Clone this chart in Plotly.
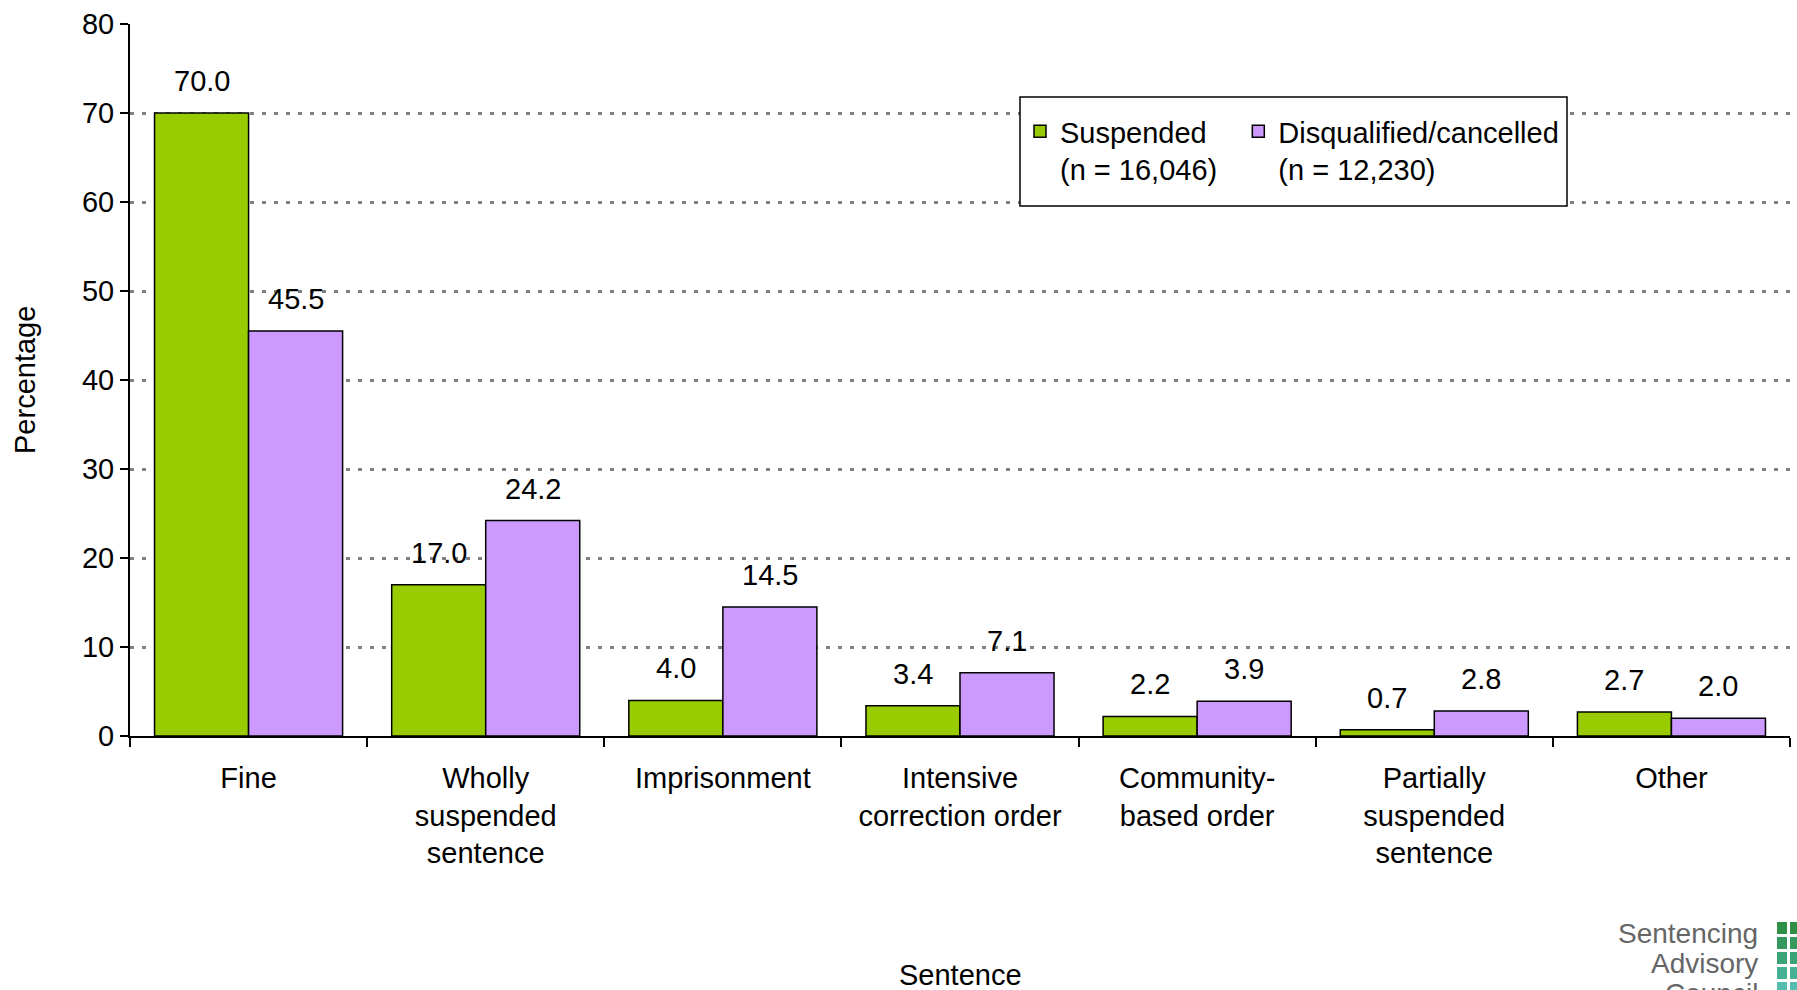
import plotly.graph_objects as go

categories = ["Fine", "Wholly<br>suspended<br>sentence", "Imprisonment",
              "Intensive<br>correction order", "Community-<br>based order",
              "Partially<br>suspended<br>sentence", "Other"]
suspended = [70.0, 17.0, 4.0, 3.4, 2.2, 0.7, 2.7]
disqualified = [45.5, 24.2, 14.5, 7.1, 3.9, 2.8, 2.0]
series_names = ["Suspended<br>(n = 16,046)\u00a0\u00a0", "Disqualified/cancelled<br>(n = 12,230)"]
y_ticks = [0, 10, 20, 30, 40, 50, 60, 70, 80]
logo_lines = ["Sentencing", "Advisory", "Council"]

GREEN = "#99CC00"
PURPLE = "#CC99FF"
FONT = "Liberation Sans, Arial, sans-serif"
FS = 29
BARGAP = 0.207

W, H = 1797, 990
ML, MR, MT, MB = 130, 7, 24, 254
pw = W - ML - MR
ph = H - MT - MB


def px(xp):
    return (xp - ML) / pw


def py(yp):
    return (H - MB - yp) / ph


fig = go.Figure()
fig.add_trace(go.Bar(x=categories, y=suspended, name=series_names[0],
                     marker=dict(color=GREEN, line=dict(color="black", width=1.5))))
fig.add_trace(go.Bar(x=categories, y=disqualified, name=series_names[1],
                     marker=dict(color=PURPLE, line=dict(color="black", width=1.5))))

half = (1 - BARGAP) / 4
annotations = []
for i, (a, b) in enumerate(zip(suspended, disqualified)):
    for off, v in ((-half, a), (half, b)):
        annotations.append(dict(x=i + off, y=v, xref="x", yref="y", text=f"{v:.1f}",
                                showarrow=False, yanchor="middle", yshift=32,
                                font=dict(family=FONT, size=FS, color="black")))

annotations.append(dict(x=0.5, y=py(975), xref="paper", yref="paper",
                        text="Sentence", showarrow=False, yanchor="middle",
                        font=dict(family=FONT, size=FS, color="black")))
annotations.append(dict(x=px(25), y=0.5, xref="paper", yref="paper",
                        text="Percentage", showarrow=False, textangle=-90, xanchor="center",
                        font=dict(family=FONT, size=FS, color="black")))

# logo text (cut off at page bottom like the reference)
for k, line in enumerate(logo_lines):
    annotations.append(dict(x=px(1760), y=py(945 + 30 * k), xref="paper", yref="paper",
                            text=line, showarrow=False, xanchor="right", yanchor="bottom",
                            align="right", yshift=-6,
                            font=dict(family=FONT, size=28, color="#666666")))

shapes = []
logo_colors = ["#2f8f45", "#34995c", "#3aa377", "#45b094", "#55bdb0"]
for r in range(5):
    for c in range(2):
        x0 = 1777 + c * 13
        y0 = 922 + r * 15
        shapes.append(dict(type="rect", xref="paper", yref="paper",
                           x0=px(x0), x1=px(x0 + 10), y0=py(y0 + 12), y1=py(y0),
                           fillcolor=logo_colors[r], line=dict(width=0)))

# legend frame
shapes.append(dict(type="rect", xref="paper", yref="paper", layer="above",
                   x0=px(1020), x1=px(1567), y0=py(206), y1=py(97),
                   fillcolor="white", line=dict(color="black", width=1.5)))

fig.update_layout(
    width=W, height=H,
    margin=dict(l=ML, r=MR, t=MT, b=MB, autoexpand=False),
    paper_bgcolor="white", plot_bgcolor="white",
    barmode="group", bargap=BARGAP, bargroupgap=0,
    font=dict(family=FONT, size=FS, color="black"),
    showlegend=True,
    legend=dict(orientation="h", x=px(1020), y=py(106), xanchor="left", yanchor="top",
                bgcolor="rgba(0,0,0,0)", borderwidth=0,
                font=dict(family=FONT, size=FS, color="black"), valign="top",
                itemclick=False, tracegroupgap=0),
    annotations=annotations,
    shapes=shapes,
    xaxis=dict(showline=True, linecolor="black", linewidth=2, ticks="outside",
               tickson="boundaries", ticklen=9, tickwidth=2, tickcolor="black",
               ticklabelstandoff=15,
               showgrid=False, tickfont=dict(family=FONT, size=FS, color="black")),
    yaxis=dict(range=[0, 80], tickvals=y_ticks, showline=True, linecolor="black", linewidth=2,
               ticks="outside", ticklen=8, tickwidth=2, tickcolor="black",
               showgrid=True, gridcolor="#808080", gridwidth=3, griddash="4px,8px",
               zeroline=False, tickfont=dict(family=FONT, size=FS, color="black")),
)

fig.write_html("out.html")
